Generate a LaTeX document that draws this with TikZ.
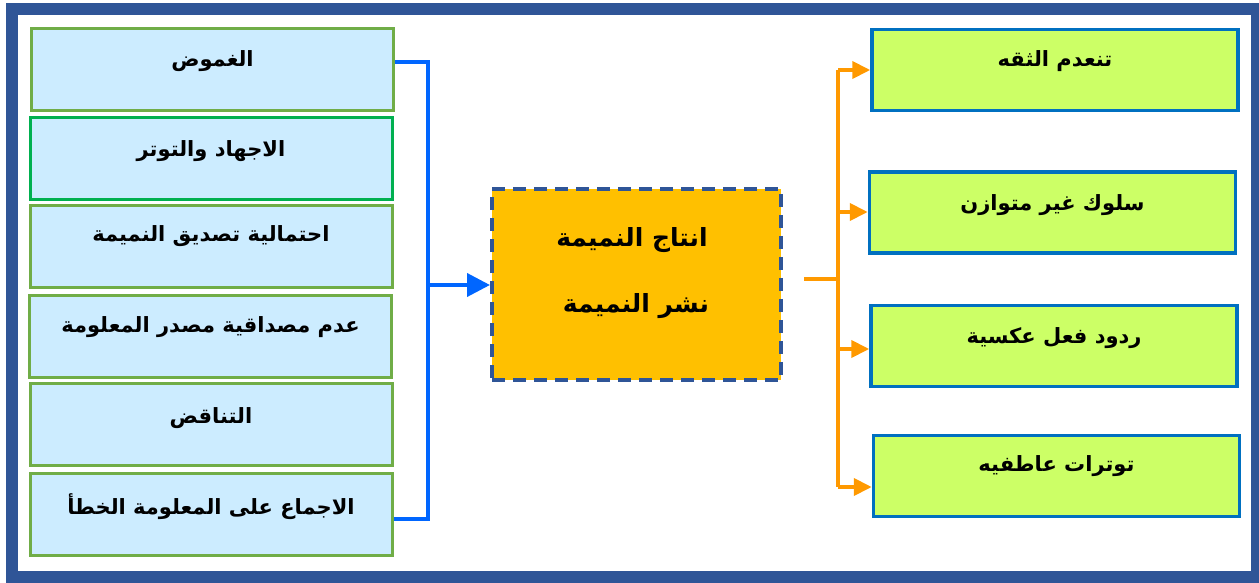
\documentclass[tikz,border=0pt]{standalone}
\usepackage{fontspec}
\newfontfamily\arabicfont[Script=Arabic]{DejaVu Sans}
\TeXXeTstate=1
\usetikzlibrary{arrows.meta}
\definecolor{frameblue}{RGB}{47,85,151}
\definecolor{lightblue}{RGB}{204,236,255}
\definecolor{leafgreen}{RGB}{112,173,71}
\definecolor{brightgreen}{RGB}{0,176,80}
\definecolor{goldfill}{RGB}{255,192,0}
\definecolor{limefill}{RGB}{204,255,102}
\definecolor{boxblue}{RGB}{0,112,192}
\definecolor{linkblue}{RGB}{0,102,255}
\definecolor{linkorange}{RGB}{255,153,0}
\newcommand{\artxt}[1]{\arabicfont\bfseries\beginR #1\endR}
\tikzset{
  causebox/.style={draw=leafgreen, line width=3pt, fill=lightblue, minimum width=362pt, minimum height=82pt, inner sep=0pt},
  effectbox/.style={draw=boxblue, line width=3.5pt, fill=limefill, minimum width=366pt, minimum height=81pt, inner sep=0pt},
  corebox/.style={draw=frameblue, line width=4pt, dash pattern=on 13pt off 8pt, fill=goldfill, minimum width=289pt, minimum height=191pt, inner sep=0pt},
  lbl/.style={font=\fontsize{21}{24}\selectfont, inner sep=0pt},
  corelbl/.style={font=\fontsize{25}{28}\selectfont, inner sep=0pt},
  bluelink/.style={draw=linkblue, line width=4pt},
  orangelink/.style={draw=linkorange, line width=4pt}
}
\begin{document}
\begin{tikzpicture}[x=1pt,y=-1pt]
\useasboundingbox (0,0) rectangle (1259,583);
\draw[frameblue, line width=12pt] (12,9) rectangle (1257,577);
% left boxes
\node[causebox] (b1) at (212.5,70) {};
\node[causebox, draw=brightgreen] (b2) at (211,158.5) {};
\node[causebox] (b3) at (211,246) {};
\node[causebox] (b4) at (210.5,336.5) {};
\node[causebox] (b5) at (211,424.5) {};
\node[causebox] (b6) at (211,514.5) {};
\node[lbl] at ([yshift=-34pt]b1.north) {\artxt{الغموض}};
\node[lbl] at ([yshift=-35pt]b2.north) {\artxt{الاجهاد والتوتر}};
\node[lbl] at ([yshift=-33pt]b3.north) {\artxt{احتمالية تصديق النميمة}};
\node[lbl] at ([yshift=-33pt]b4.north) {\artxt{عدم مصداقية مصدر المعلومة}};
\node[lbl] at ([yshift=-36pt]b5.north) {\artxt{التناقض}};
\node[lbl] at ([yshift=-35pt]b6.north) {\artxt{الاجماع على المعلومة الخطأ}};
% centre box
\node[corebox] (c) at (636.5,284.5) {};
\node[corelbl] at (632,240) {\artxt{انتاج النميمة}};
\node[corelbl] at (636,306) {\artxt{نشر النميمة}};
% right boxes
\node[effectbox] (r1) at (1055,70) {};
\node[effectbox] (r2) at (1052.5,212.5) {};
\node[effectbox] (r3) at (1054,346) {};
\node[effectbox] (r4) at (1056.5,476) {};
\node[lbl] at ([yshift=-33pt]r1.north) {\artxt{تنعدم الثقه}};
\node[lbl] at ([yshift=-35pt]r2.north) {\artxt{سلوك غير متوازن}};
\node[lbl] at ([yshift=-34pt]r3.north) {\artxt{ردود فعل عكسية}};
\node[lbl] at ([yshift=-32pt]r4.north) {\artxt{توترات عاطفيه}};
% blue connector
\coordinate (jt) at (428,62);
\coordinate (jb) at (428,519);
\coordinate (jm) at (428,285);
\draw[bluelink] (b1.east |- jt) -- (jt) -- (jb) -- (b6.east |- jb);
\draw[bluelink, -{Triangle[length=23pt,width=23pt]}] (jm) -- (c.west |- jm);
% orange connector
\coordinate (os) at (804,279);
\coordinate (ov) at (838,279);
\coordinate (ot) at (838,70);
\coordinate (ob) at (838,487);
\draw[orangelink] (os) -- (ov);
\draw[orangelink] (ot) -- (ob);
\draw[orangelink, -{Triangle[length=18pt,width=17pt]}] (ot) -- (r1.west |- ot);
\draw[orangelink, -{Triangle[length=18pt,width=17pt]}] (838,212) coordinate (o2) -- (r2.west |- o2);
\draw[orangelink, -{Triangle[length=18pt,width=17pt]}] (838,349) coordinate (o3) -- (r3.west |- o3);
\draw[orangelink, -{Triangle[length=18pt,width=17pt]}] (ob) -- (r4.west |- ob);
\end{tikzpicture}
\end{document}
